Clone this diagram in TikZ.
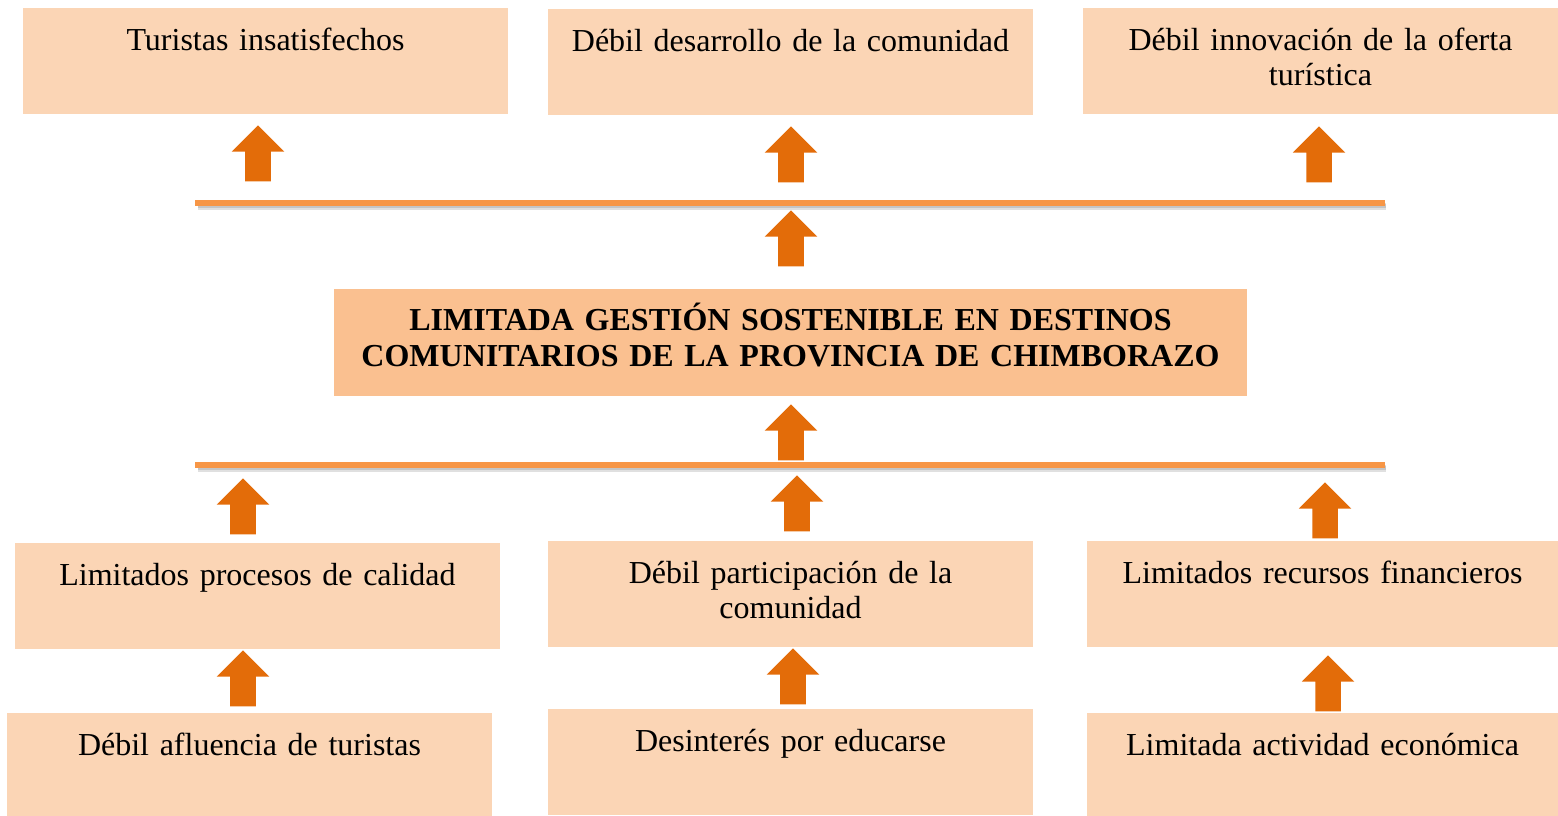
\documentclass[tikz,border=0pt]{standalone}
\usepackage{fontspec}
\setmainfont{Liberation Serif}[WordSpace=0.8]
\usetikzlibrary{shapes.arrows,positioning}

\definecolor{cajafill}{HTML}{FBD5B5}
\definecolor{problemafill}{HTML}{FAC090}
\definecolor{flechafill}{HTML}{E36C09}
\definecolor{barra}{HTML}{F79646}

\begin{document}
\begin{tikzpicture}[%
x=0.75pt,
y=-0.75pt,
caja/.style={fill=cajafill, anchor=north, inner xsep=0pt, inner ysep=0pt,
  align=center, text width=#1, text height=31.5pt, text depth=48pt,
  font=\fontsize{24}{26.5}\selectfont},
caja/.default=363.75pt,
problema/.style={fill=problemafill, anchor=north, inner xsep=0pt, inner ysep=0pt,
  align=center, text width=684.75pt, text height=30.75pt, text depth=49.5pt,
  font=\fontsize{24}{27}\selectfont\bfseries},
flecha/.style={shape=single arrow, fill=flechafill, shape border rotate=90,
  minimum height=42pt, minimum width=39pt, single arrow head extend=10.125pt,
  single arrow tip angle=90, inner sep=9.375pt, anchor=tip},
linea/.style={draw=barra, line width=4.2pt},
sombra/.style={draw=black, line width=#1, opacity=0.12},
sombra/.default=3pt
]
\useasboundingbox (0,0) rectangle (1558,815);
\clip (0,0) rectangle (1558,815);

% efectos
\node[caja] (e1) at (265.5,8) {Turistas insatisfechos};
\node[caja] (e2) at (790.5,9) {Débil desarrollo de la comunidad};
\node[caja=356.25pt] (e3) at (1320.5,8) {Débil innovación de la oferta\\turística};

\node[flecha] (a1) at (258,125) {};
\node[flecha] (a2) at (791,126) {};
\node[flecha] (a3) at (1319,126) {};

% barra superior
\coordinate (b1l) at (195,203);
\coordinate (b1r) at (1385,203);
\draw[sombra=5pt] ([xshift=2pt,yshift=-2.5pt]b1l) -- ([xshift=1pt,yshift=-2.5pt]b1r);
\draw[sombra] ([xshift=2pt,yshift=-2.5pt]b1l) -- ([xshift=1pt,yshift=-2.5pt]b1r);
\draw[linea] (b1l) -- (b1r);

\node[flecha] (a4) at (791,210) {};

% problema central
\node[problema] (p) at (790.5,289) {LIMITADA GESTIÓN SOSTENIBLE EN DESTINOS\\COMUNITARIOS DE LA PROVINCIA DE CHIMBORAZO};

\node[flecha] (a5) at (791,404) {};

% barra inferior
\coordinate (b2l) at (195,465);
\coordinate (b2r) at (1385,465);
\draw[sombra=5pt] ([xshift=2pt,yshift=-2.5pt]b2l) -- ([xshift=1pt,yshift=-2.5pt]b2r);
\draw[sombra] ([xshift=2pt,yshift=-2.5pt]b2l) -- ([xshift=1pt,yshift=-2.5pt]b2r);
\draw[linea] (b2l) -- (b2r);

\node[flecha] (a6) at (243,478) {};
\node[flecha] (a7) at (797,475) {};
\node[flecha] (a8) at (1325,482) {};

% causas
\node[caja] (c1) at (257.5,543) {Limitados procesos de calidad};
\node[caja] (c2) at (790.5,541) {Débil participación de la\\comunidad};
\node[caja=353.25pt] (c3) at (1322.5,541) {Limitados recursos financieros};

\node[flecha] (a9) at (243,650) {};
\node[flecha] (a10) at (793,648) {};
\node[flecha] (a11) at (1328,655) {};

% subcausas
\node[caja] (s1) at (249.5,713) {Débil afluencia de turistas};
\node[caja] (s2) at (790.5,709) {Desinterés por educarse};
\node[caja=353.25pt] (s3) at (1322.5,713) {Limitada actividad económica};

\end{tikzpicture}
\end{document}
